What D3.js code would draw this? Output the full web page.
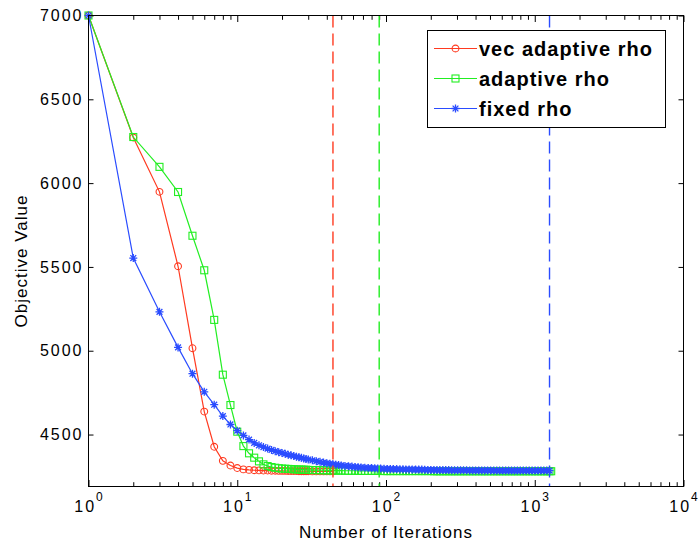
<!DOCTYPE html>
<html>
<head>
<meta charset="utf-8">
<script src="https://cdn.jsdelivr.net/npm/d3@7"></script>
<style>
  body { margin: 0; background: #fff; }
  svg text { font-family: "Liberation Sans", Arial, sans-serif; fill: #000; }
</style>
</head>
<body>
<svg id="chart" width="698" height="546"></svg>
<script>
// iteration numbers shared by the three runs (each run stops at its own length)
var iters = [1,2,3,4,5,6,7,8,9,10,11,12,13,14,15,16,17,18,19,20,21,22,23,24,25,26,27,28,29,30,
  32,34,36,38,40,42,44,46,48,50,53,56,59,62,65,68,72,76,80,84,88,92,97,102,107,112,118,124,130,136,
  143,150,158,166,174,182,191,200,210,220,230,241,252,264,276,289,303,317,332,348,365,382,400,420,440,
  460,482,505,530,555,580,608,637,667,698,731,765,800,838,877,918,960,1005,1052,1100,1150,1204,1257,1290];

var vecAdaptive = [7000,6272,5948,5504,5015,4637,4427,4343,4315,4300,4292,4289,4287,4286,4285,4285,4284,4284,4283,4283,
  4283,4282,4282,4282,4282,4281,4281,4281,4281,4281,4280,4280,4280,4280,4280,4280,4280];

var adaptive = [7000,6275,6097,5947,5686,5480,5184,4857,4676,4517,4431,4388,4362,4340,4322,4312,4306,4302,4299,4297,
  4296,4295,4294,4293,4292,4291,4291,4290,4290,4289,4288,4288,4287,4287,4286,4286,4286,4285,4285,4285,
  4284,4284,4284,4284,4283,4283,4283,4283,4283,4283,4283,4283,4282,4282,4282,4282,4282,4282,4282,4282,
  4282,4282,4282,4282,4282,4282,4282,4282,4281,4281,4281,4281,4281,4281,4281,4281,4281,4281,4281,4281,
  4281,4281,4281,4281,4281,4281,4281,4281,4281,4281,4281,4281,4281,4281,4281,4281,4281,4281,4281,4281,
  4281,4281,4281,4281,4281,4281,4281,4281,4281];

var fixedRho = [7000,5553,5232,5020,4863,4755,4678,4610,4560,4523,4495,4470,4450,4436,4425,4416,4408,4401,4395,4390,
  4385,4380,4376,4372,4368,4364,4361,4357,4354,4351,4346,4341,4337,4333,4329,4326,4323,4320,4318,4316,
  4313,4311,4309,4307,4305,4304,4302,4301,4300,4299,4298,4297,4296,4295,4295,4294,4294,4293,4293,4292,
  4292,4292,4291,4291,4291,4290,4289,4289,4289,4288,4288,4288,4288,4288,4287,4287,4287,4287,4287,4287,
  4286,4286,4286,4286,4286,4286,4286,4286,4285,4285,4285,4285,4285,4285,4285,4285,4285,4285,4285,4285,
  4285,4285,4285,4285,4285,4285,4285,4285];

var stopIters = [44, 90, 1257];
var seriesNames = ["vec adaptive rho", "adaptive rho", "fixed rho"];
var seriesColors = ["#ff3a20", "#22ee22", "#2a4cff"];
var seriesMarkers = ["circle", "square", "star"];
var xTicks = [1, 10, 100, 1000, 10000];
var xExponents = ["0", "1", "2", "3", "4"];
var yTicks = [4500, 5000, 5500, 6000, 6500, 7000];

var svg = d3.select("#chart");
var x = d3.scaleLog().domain([1, 10000]).range([88.5, 683.5]);
var y = d3.scaleLinear().domain([4190, 7000]).range([486.5, 15.5]);

var minorTicks = x.ticks().filter(function (v) { return xTicks.indexOf(v) < 0; });

function ticks(axis, tx, ty) {
  var g = svg.append("g").attr("transform", "translate(" + tx + "," + ty + ")").call(axis);
  g.select(".domain").remove();
  g.selectAll("line").attr("stroke", "#000");
  return g;
}
ticks(d3.axisBottom(x).tickValues(xTicks).tickSizeInner(-6.5).tickSizeOuter(0).tickFormat(""), 0, 486.5);
ticks(d3.axisBottom(x).tickValues(minorTicks).tickSizeInner(-4.3).tickSizeOuter(0).tickFormat(""), 0, 486.5);
ticks(d3.axisTop(x).tickValues(xTicks).tickSizeInner(-6.5).tickSizeOuter(0).tickFormat(""), 0, 15.5);
ticks(d3.axisTop(x).tickValues(minorTicks).tickSizeInner(-4.3).tickSizeOuter(0).tickFormat(""), 0, 15.5);
ticks(d3.axisRight(y).tickValues(yTicks).tickSizeInner(-5).tickSizeOuter(0).tickFormat(""), 683.5, 0);
var yl = ticks(d3.axisLeft(y).tickValues(yTicks).tickFormat(d3.format("d"))
  .tickSizeInner(-5).tickSizeOuter(0).tickPadding(5), 88.5, 0);
yl.selectAll("text").style("font-size", "16px").style("letter-spacing", "2px").attr("fill", "#000");

// x tick labels as 10 with superscript exponent
var xl = svg.append("g").selectAll("text").data(xTicks).enter().append("text")
  .attr("x", function (d) { return x(d); })
  .attr("y", 512)
  .attr("text-anchor", "middle");
xl.append("tspan").style("font-size", "16px").style("letter-spacing", "2px").text("10");
xl.append("tspan").attr("dy", -11).style("font-size", "12px").text(function (d, i) { return xExponents[i]; });

svg.append("text").attr("x", 386).attr("y", 538).attr("text-anchor", "middle")
  .style("font-size", "17px").style("letter-spacing", "1px").text("Number of Iterations");
svg.append("text").attr("transform", "translate(27,261) rotate(-90)").attr("text-anchor", "middle")
  .style("font-size", "17px").style("letter-spacing", "1px").text("Objective Value");

function marker(g, kind, color) {
  if (kind === "circle") {
    g.append("circle").attr("r", 3.4).attr("fill", "none").attr("stroke", color).attr("stroke-width", 1.1);
  } else if (kind === "square") {
    g.append("rect").attr("x", -3.5).attr("y", -3.5).attr("width", 7).attr("height", 7)
      .attr("fill", "none").attr("stroke", color).attr("stroke-width", 1.1);
  } else {
    g.append("path").attr("d", "M-4,0H4M0,-4V4M-2.9,-2.9L2.9,2.9M-2.9,2.9L2.9,-2.9")
      .attr("fill", "none").attr("stroke", color).attr("stroke-width", 1.3);
  }
}

var line = d3.line().x(function (d) { return x(d[0]); }).y(function (d) { return y(d[1]); });
[vecAdaptive, adaptive, fixedRho].forEach(function (vals, s) {
  var pts = vals.map(function (v, i) { return [iters[i], v]; });
  svg.append("path").datum(pts).attr("d", line)
    .attr("fill", "none").attr("stroke", seriesColors[s]).attr("stroke-width", 1.2);
  svg.append("g").selectAll("g").data(pts).enter().append("g")
    .attr("transform", function (d) { return "translate(" + x(d[0]) + "," + y(d[1]) + ")"; })
    .each(function () { marker(d3.select(this), seriesMarkers[s], seriesColors[s]); });
});

svg.append("g").selectAll("line").data(stopIters).enter().append("line")
  .attr("x1", function (d) { return x(d); }).attr("x2", function (d) { return x(d); })
  .attr("y1", y(7000)).attr("y2", y(4190))
  .style("stroke", function (d, i) { return seriesColors[i]; })
  .attr("stroke-width", 1.4).attr("stroke-dasharray", "12,6");

svg.append("rect").attr("x", 88.5).attr("y", 15.5).attr("width", 595).attr("height", 471)
  .attr("fill", "none").attr("stroke", "#000");

// legend
var lg = svg.append("g");
lg.append("rect").attr("x", 427.5).attr("y", 30.5).attr("width", 238).attr("height", 97)
  .attr("fill", "#fff").attr("stroke", "#000");
seriesNames.forEach(function (name, i) {
  var ry = 48.5 + i * 30;
  lg.append("line").attr("x1", 434).attr("x2", 477).attr("y1", ry).attr("y2", ry)
    .attr("stroke", seriesColors[i]).attr("stroke-width", 1.2);
  marker(lg.append("g").attr("transform", "translate(455.5," + ry + ")"), seriesMarkers[i], seriesColors[i]);
  lg.append("text").attr("x", 479).attr("y", ry).attr("dy", "0.35em")
    .style("font-size", "20px").style("font-weight", "bold").style("letter-spacing", "1px").text(name);
});
</script>
</body>
</html>
